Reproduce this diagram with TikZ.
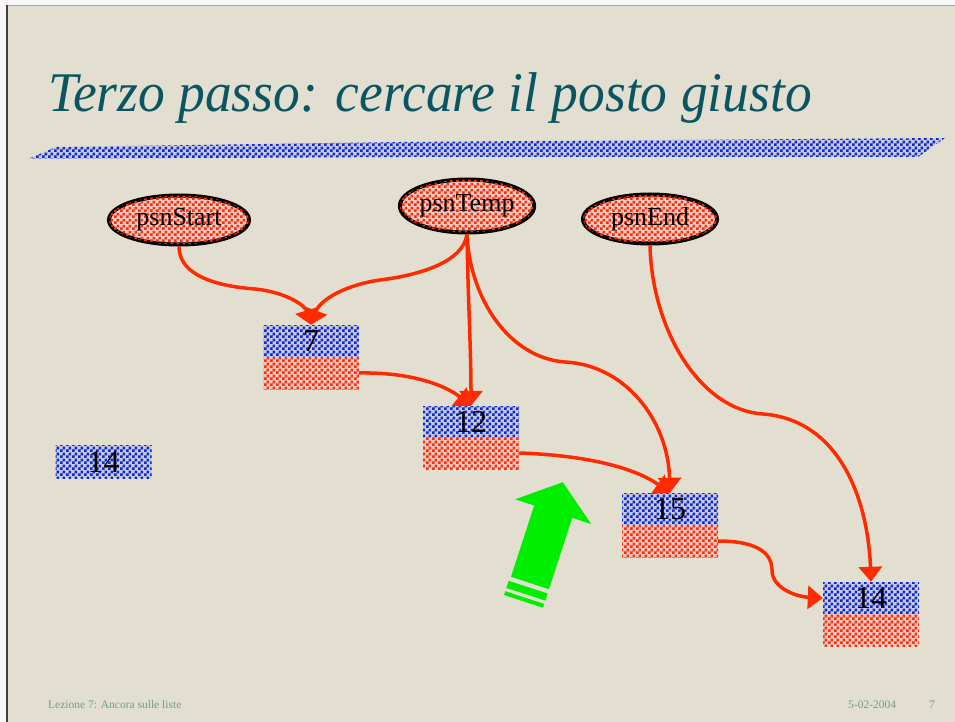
\documentclass[tikz,border=0pt]{standalone}
\usepackage{fontspec}
\setmainfont{Liberation Serif}
\usetikzlibrary{arrows.meta,patterns.meta,shapes.geometric}
\definecolor{slidebg}{HTML}{E2DFD1}
\definecolor{titlecol}{HTML}{0B5563}
\definecolor{footcol}{HTML}{6E9E80}
\definecolor{ckblue}{HTML}{0A28E0}
\definecolor{ckbluebg}{HTML}{C9CAD6}
\definecolor{ckred}{HTML}{FF2A0A}
\definecolor{ckredbg}{HTML}{EFC9BE}
\definecolor{arrred}{HTML}{FF2A00}
\definecolor{garrow}{HTML}{00EE00}
\pgfdeclarepattern{
  name=chk,
  bottom left={\pgfpoint{0pt}{0pt}},
  top right={\pgfpoint{6pt}{6pt}},
  tile size={\pgfpoint{6pt}{6pt}},
  code={\pgfpathrectangle{\pgfpoint{0pt}{0pt}}{\pgfpoint{3pt}{3pt}}
        \pgfpathrectangle{\pgfpoint{3pt}{3pt}}{\pgfpoint{3pt}{3pt}}
        \pgfusepath{fill}}
}
\tikzset{
  blueck/.style={fill=ckbluebg, postaction={pattern={chk}, pattern color=ckblue}},
  redck/.style={fill=ckredbg, postaction={pattern={chk}, pattern color=ckred}},
  ptrnode/.style={ellipse, redck, draw=black, line width=4pt, inner sep=0pt,
    minimum width=#1, font=\fontsize{26}{28}\selectfont},
  boxtop/.style={rectangle, blueck, inner sep=0pt, minimum width=96pt,
    minimum height=32pt, font=\fontsize{32}{32}\selectfont},
  boxbot/.style={rectangle, redck, inner sep=0pt, minimum width=96pt,
    minimum height=32pt},
  link/.style={draw=arrred, line width=3.5pt,
    -{Triangle[width=23pt,length=15pt]}},
  footer/.style={font=\fontsize{11.5}{13}\selectfont, text=footcol, inner sep=0pt}
}
\begin{document}
\begin{tikzpicture}[x=1pt,y=-1pt]
\useasboundingbox (0,0) rectangle (955,722);
% background and frame
\fill[white!94!gray] (0,0) rectangle (955,722);
\fill[slidebg] (8,6) rectangle (955,722);
\draw[gray!70, line width=1.5pt] (7,5.5) -- (955,5.5);
\draw[black!75, line width=2pt] (7,5) -- (7,722);
% title
\node[anchor=base west, inner sep=0pt, text=titlecol, xscale=0.955,
  font=\itshape\fontsize{56}{60}\selectfont] (title) at (48,112)
  {Terzo passo: cercare il posto giusto};
% stripe
\path[blueck] (28,159) -- (56,147) -- (400,142) -- (945,138) -- (918,157)
  -- (400,157) -- cycle;
% pointer nodes
\node[ptrnode=140pt, minimum height=49pt] (ps) at (179,220) {psnStart};
\node[ptrnode=134pt, minimum height=53pt] (pt) at (467,206) {psnTemp};
\node[ptrnode=134pt, minimum height=49pt] (pe) at (650,219) {psnEnd};
% boxes
\node[boxtop] (b7t) at (311,341) {7};
\node[boxbot] (b7b) at (311,373) {};
\node[boxtop] (b12t) at (471,422) {12};
\node[boxbot] (b12b) at (471,453) {};
\node[boxtop] (b15t) at (670,509) {15};
\node[boxbot] (b15b) at (670,541) {};
\node[boxtop] (b14t) at (871,598) {14};
\node[boxbot] (b14b) at (871,630) {};
\node[boxtop, minimum height=33pt] (n14) at (103.5,461.5) {14};
% links
\draw[link] (ps.south) .. controls (179,275) and (215,286) .. (255,289)
  .. controls (285,292) and (305,305) .. (b7t.north);
\draw[link] (pt.south) .. controls (463,262) and (420,275) .. (380,280)
  .. controls (345,285) and (320,300) .. (b7t.north);
\draw[link] (pt.south) .. controls (468,300) and (471,350) .. (b12t.north);
\draw[link] (pt.south) .. controls (470,300) and (510,358) .. (565,362)
  .. controls (625,365) and (668,420) .. (b15t.north);
\draw[link] (pe.south) .. controls (652,330) and (700,410) .. (763,414)
  .. controls (840,420) and (868,500) .. (b14t.north);
\draw[link] (b7b.east) .. controls (410,372) and (445,385) .. (b12t.north);
\draw[link] (b12b.east) .. controls (580,455) and (632,466) .. (b15t.north);
\draw[link] (b15b.east) .. controls (760,541) and (772,555) .. (772,570)
  .. controls (772,590) and (800,597) .. (b14t.west);
% green arrow
\begin{scope}[shift={(530,583)}, rotate=-18]
  \fill[garrow] (-20,0) -- (-20,-75) -- (-40,-75) -- (0,-106) -- (40,-75)
    -- (20,-75) -- (20,0) -- cycle;
  \fill[garrow] (-21,4.5) -- (20,4.5) -- (20,12) -- (-21,12) -- cycle;
  \fill[garrow] (-21,15.5) -- (20,15.5) -- (20,19.5) -- (-21,19.5) -- cycle;
\end{scope}
% footer
\node[footer, anchor=base west] (f1) at (48,708) {Lezione 7: Ancora sulle liste};
\node[footer, anchor=base west] (f2) at (848,708) {5-02-2004};
\node[footer, anchor=base west] (f3) at (929,708) {7};
\end{tikzpicture}
\end{document}
